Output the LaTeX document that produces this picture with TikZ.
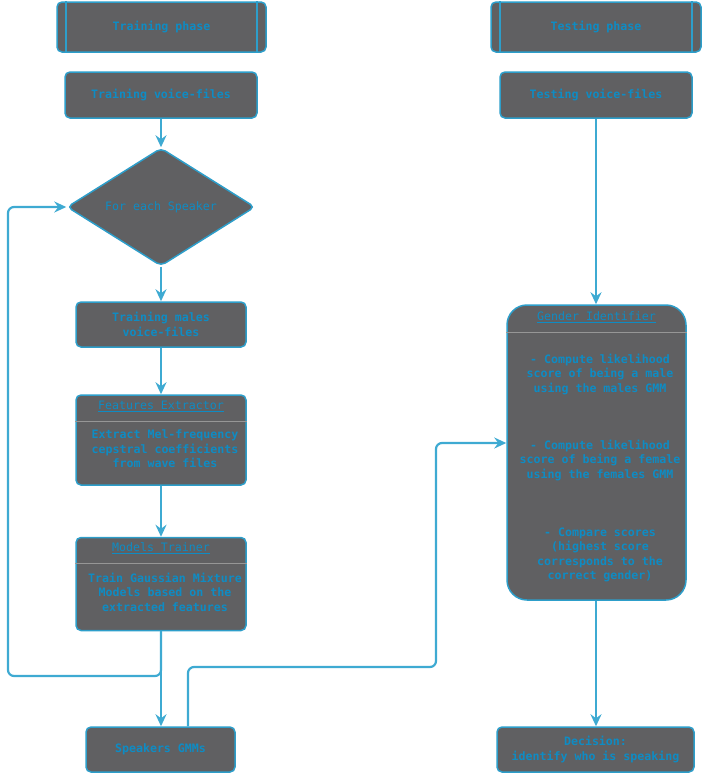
\documentclass[tikz,border=0pt]{standalone}
\usepackage{fontspec}
\setmonofont{DejaVu Sans Mono}
\usetikzlibrary{shapes.geometric,arrows.meta,calc}
\definecolor{boxfill}{RGB}{96,96,98}
\definecolor{edge}{RGB}{45,158,202}
\definecolor{wire}{RGB}{62,170,210}
\definecolor{ink}{RGB}{14,140,196}
\definecolor{rulec}{RGB}{150,150,150}
\begin{document}
\begin{tikzpicture}[x=1pt,y=-1pt,
  txt/.style={text=ink, align=center, inner sep=0pt,
    font=\ttfamily\bfseries\fontsize{11.6}{14.5}\selectfont},
  thin txt/.style={txt, font=\ttfamily\fontsize{11.6}{14.5}\selectfont},
  boxbase/.style={draw=edge, fill=boxfill, line width=1.5pt, inner sep=0pt},
  box/.style 2 args={boxbase, rounded corners=5pt, minimum width=#1, minimum height=#2},
  bigbox/.style 2 args={boxbase, rounded corners=20pt, minimum width=#1, minimum height=#2},
  decide/.style 2 args={boxbase, diamond, rounded corners=5pt, minimum width=#1, minimum height=#2},
  flow/.style={draw=wire, line width=2.2pt, rounded corners=6pt,
    -{Stealth[length=12pt,width=11pt,inset=4pt]}},
  divider/.style={draw=rulec, line width=0.7pt},
  sidebar/.style={draw=edge, line width=2pt}
]
\useasboundingbox (0,0) rectangle (703,774);

% --- training column ---
\node[box={209pt}{50pt}] (tp) at (161.5,27) {};
\node[txt] (tpt) at (tp) {Training phase};
\draw[sidebar] ($(tp.north west)+(10,0)$) -- ($(tp.south west)+(10,0)$);
\draw[sidebar] ($(tp.north east)+(-10,0)$) -- ($(tp.south east)+(-10,0)$);

\node[box={192pt}{46pt}] (tvf) at (161,95) {};
\node[txt] (tvft) at (tvf) {Training voice-files};

\node[decide={188pt}{118pt}] (loop) at (161,207) {};
\node[thin txt] (loopt) at (loop) {For each Speaker};

\node[box={170pt}{45pt}] (males) at (161,324.5) {};
\node[txt] (malest) at (males) {Training males\\voice-files};

\node[box={170pt}{90pt}] (fe) at (161,440) {};
\node[thin txt] (fet) at (161,406) {\underline{Features Extractor}};
\draw[divider] (fe.west |- 0,421) -- (fe.east |- 0,421);
\node[txt] (feb) at (165,449) {Extract Mel-frequency\\cepstral coefficients\\from wave files};

\node[box={170pt}{93pt}] (mt) at (161,584) {};
\node[thin txt] (mtt) at (161,548) {\underline{Models Trainer}};
\draw[divider] (mt.west |- 0,563) -- (mt.east |- 0,563);
\node[txt] (mtb) at (165,592) {Train Gaussian Mixture\\Models based on the\\extracted features};

\node[box={149pt}{45pt}] (gmm) at (160.5,749.5) {};
\node[txt] (gmmt) at (gmm) {Speakers GMMs};

% --- testing column ---
\node[box={210pt}{50pt}] (sp) at (596,27) {};
\node[txt] (spt) at (sp) {Testing phase};
\draw[sidebar] ($(sp.north west)+(10,0)$) -- ($(sp.south west)+(10,0)$);
\draw[sidebar] ($(sp.north east)+(-10,0)$) -- ($(sp.south east)+(-10,0)$);

\node[box={192pt}{46pt}] (svf) at (596,95) {};
\node[txt] (svft) at (svf) {Testing voice-files};

\node[bigbox={179pt}{295pt}] (gi) at (596.5,452.5) {};
\node[thin txt] (git) at (596.5,317) {\underline{Gender Identifier}};
\draw[divider] (gi.west |- 0,332) -- (gi.east |- 0,332);
\node[txt] (gi1) at (600,374) {- Compute likelihood\\score of being a male\\using the males GMM};
\node[txt] (gi2) at (600,460) {- Compute likelihood\\score of being a female\\using the females GMM};
\node[txt] (gi3) at (600,555) {- Compare scores\\(highest score\\corresponds to the\\correct gender)};

\node[box={197pt}{45pt}] (dec) at (595.5,749.5) {};
\node[txt] (dect) at (dec) {Decision:\\identify who is speaking};

% --- connectors ---
\draw[flow] (tvf.south) -- (tvf.south |- loop.north);
\draw[flow] (loop.south) -- (males.north);
\draw[flow] (males.south) -- (fe.north);
\draw[flow] (fe.south) -- (mt.north);
\draw[flow] (mt.south) -- (mt.south |- gmm.north);

\coordinate (backcorner) at (8,676);
\draw[flow] (mt.south) |- (backcorner) |- (loop.west);

\coordinate (gmmout) at ($(gmm.north)+(27.5,0)$);
\coordinate (midcorner) at (436,667);
\coordinate (giin) at (gi.west |- 0,443);
\draw[flow] (gmmout) |- (midcorner) |- (giin);

\draw[flow] (svf.south) -- (svf.south |- gi.north);
\draw[flow] (gi.south -| svf.south) -- (svf.south |- dec.north);
\end{tikzpicture}
\end{document}
